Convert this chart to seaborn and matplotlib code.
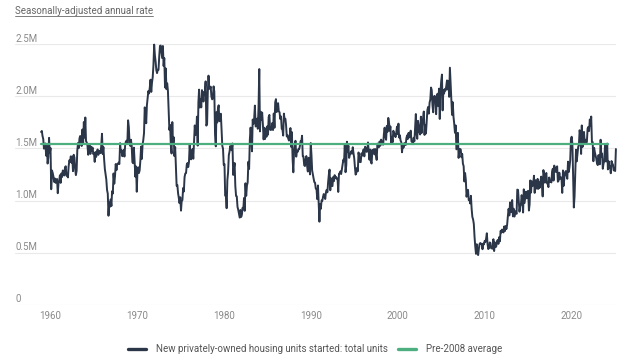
import matplotlib
matplotlib.use("Agg")  # no display

import matplotlib.dates as mdates
import matplotlib.pyplot as plt
import matplotlib.transforms as mtransforms
import numpy as np
import pandas as pd
import seaborn as sns
from matplotlib.lines import Line2D

# Monthly housing starts, thousands of units (SAAR)
starts_1959 = [1657, 1667, 1620, 1590, 1498, 1503, 1547, 1430, 1540, 1355, 1416, 1601]
starts_1960s = [
    1460, 1503, 1109, 1289, 1266, 1231, 1179, 1212, 1170, 1202, 1207, 1071,
    1166, 1195, 1243, 1170, 1260, 1226, 1289, 1252, 1241, 1318, 1329, 1239,
    1246, 1222, 1325, 1386, 1373, 1424, 1363, 1422, 1282, 1439, 1413, 1303,
    1244, 1287, 1480, 1552, 1503, 1596, 1619, 1542, 1523, 1681, 1551, 1753,
    1603, 1796, 1570, 1557, 1528, 1439, 1522, 1533, 1447, 1516, 1477, 1508,
    1446, 1456, 1371, 1465, 1418, 1461, 1490, 1438, 1476, 1462, 1455, 1526,
    1640, 1446, 1513, 1395, 1303, 1251, 1203, 1102, 1066, 855, 982, 940,
    1011, 948, 1090, 1067, 1260, 1162, 1233, 1350, 1292, 1349, 1353, 1364,
    1350, 1550, 1466, 1481, 1425, 1451, 1487, 1422, 1536, 1566, 1574, 1550,
    1769, 1705, 1561, 1524, 1583, 1528, 1368, 1358, 1507, 1381, 1229, 1327,
]
starts_1970s = [
    1085, 1305, 1319, 1264, 1290, 1385, 1517, 1399, 1534, 1580, 1647, 1893,
    1828, 1741, 1910, 1986, 2049, 2026, 2083, 2158, 2041, 2128, 2182, 2295,
    2494, 2390, 2334, 2249, 2221, 2254, 2252, 2382, 2481, 2485, 2421, 2366,
    2481, 2289, 2365, 2084, 2266, 2067, 2123, 2051, 1874, 1677, 1724, 1526,
    1451, 1752, 1555, 1607, 1426, 1513, 1316, 1142, 1150, 1070, 1026, 975,
    1032, 904, 993, 1005, 1121, 1087, 1226, 1260, 1264, 1344, 1360, 1321,
    1367, 1538, 1421, 1395, 1459, 1495, 1401, 1550, 1720, 1629, 1641, 1804,
    1527, 1943, 2063, 1892, 1971, 1893, 2058, 2020, 1949, 2042, 2042, 2142,
    1718, 1738, 2032, 2197, 2075, 2070, 2092, 1996, 1970, 1981, 2094, 2044,
    1630, 1520, 1847, 1748, 1876, 1913, 1760, 1778, 1832, 1681, 1524, 1498,
]
starts_1980s = [
    1341, 1350, 1047, 1051, 927, 1196, 1269, 1436, 1471, 1523, 1510, 1482,
    1547, 1246, 1306, 1360, 1140, 1045, 1041, 940, 911, 873, 837, 910,
    843, 866, 931, 917, 1025, 902, 1166, 1046, 1144, 1173, 1372, 1303,
    1586, 1699, 1606, 1472, 1776, 1733, 1785, 1910, 1710, 1715, 1785, 1688,
    1897, 2260, 1663, 1851, 1774, 1843, 1732, 1586, 1698, 1590, 1689, 1612,
    1711, 1632, 1800, 1821, 1680, 1676, 1684, 1743, 1676, 1834, 1698, 1942,
    1972, 1848, 1876, 1933, 1854, 1847, 1782, 1807, 1687, 1681, 1623, 1833,
    1774, 1784, 1726, 1614, 1628, 1594, 1575, 1605, 1695, 1515, 1656, 1400,
    1271, 1473, 1532, 1573, 1421, 1478, 1467, 1493, 1492, 1522, 1569, 1563,
    1621, 1425, 1422, 1339, 1331, 1397, 1427, 1332, 1279, 1410, 1351, 1251,
]
starts_1990s = [
    1551, 1437, 1289, 1248, 1212, 1177, 1171, 1115, 1110, 1014, 1145, 969,
    798, 965, 921, 1001, 996, 1036, 1063, 1049, 1015, 1079, 1103, 1079,
    1176, 1250, 1297, 1099, 1214, 1145, 1139, 1226, 1186, 1244, 1214, 1227,
    1210, 1210, 1083, 1258, 1260, 1280, 1254, 1300, 1343, 1392, 1376, 1533,
    1272, 1337, 1564, 1465, 1526, 1409, 1439, 1450, 1474, 1450, 1511, 1455,
    1407, 1316, 1249, 1267, 1314, 1281, 1461, 1416, 1369, 1369, 1452, 1431,
    1467, 1491, 1424, 1516, 1504, 1467, 1472, 1557, 1475, 1392, 1489, 1370,
    1355, 1486, 1457, 1492, 1442, 1494, 1437, 1390, 1546, 1520, 1510, 1566,
    1525, 1584, 1567, 1540, 1536, 1641, 1698, 1614, 1582, 1715, 1660, 1792,
    1748, 1670, 1710, 1553, 1611, 1559, 1669, 1648, 1635, 1608, 1648, 1708,
]
starts_2000s = [
    1636, 1737, 1604, 1626, 1575, 1559, 1463, 1541, 1507, 1549, 1551, 1532,
    1600, 1625, 1590, 1649, 1605, 1636, 1670, 1567, 1562, 1540, 1602, 1568,
    1698, 1829, 1642, 1592, 1764, 1717, 1655, 1633, 1804, 1648, 1753, 1788,
    1853, 1629, 1726, 1643, 1751, 1867, 1897, 1833, 1939, 1967, 2083, 2057,
    1911, 1846, 1998, 2003, 1981, 1828, 2002, 2024, 1905, 2072, 1782, 2042,
    2144, 2207, 1864, 2061, 2025, 2068, 2054, 2095, 2151, 2065, 2147, 1994,
    2273, 2119, 1969, 1821, 1942, 1802, 1737, 1650, 1720, 1491, 1570, 1649,
    1409, 1480, 1495, 1490, 1415, 1448, 1354, 1330, 1183, 1264, 1197, 1037,
    1084, 1103, 1005, 1013, 973, 1046, 923, 844, 820, 777, 652, 560,
    490, 582, 505, 478, 540, 585, 594, 586, 585, 534, 588, 581,
]
starts_2010s = [
    614, 604, 636, 687, 583, 536, 546, 599, 594, 543, 545, 539,
    630, 517, 600, 554, 561, 608, 623, 585, 650, 610, 711, 694,
    723, 704, 695, 753, 708, 757, 728, 770, 854, 921, 858, 983,
    888, 962, 1005, 849, 922, 847, 898, 889, 873, 1105, 1102, 1003,
    894, 947, 962, 1052, 1001, 886, 1108, 977, 1034, 1085, 1022, 1084,
    1094, 905, 963, 1193, 1077, 1184, 1139, 1159, 1238, 1074, 1195, 1150,
    1114, 1208, 1113, 1175, 1124, 1188, 1230, 1157, 1040, 1292, 1251, 1172,
    1230, 1265, 1168, 1157, 1129, 1221, 1179, 1189, 1174, 1279, 1305, 1192,
    1335, 1276, 1315, 1274, 1328, 1181, 1191, 1267, 1209, 1224, 1216, 1074,
    1289, 1142, 1223, 1271, 1283, 1246, 1209, 1373, 1274, 1319, 1387, 1585,
]
starts_2020s = [
    1612, 1543, 1269, 934, 1038, 1265, 1487, 1376, 1448, 1514, 1536, 1674,
    1621, 1447, 1720, 1514, 1594, 1658, 1557, 1583, 1549, 1563, 1690, 1706,
    1666, 1777, 1716, 1805, 1562, 1561, 1377, 1505, 1463, 1432, 1401, 1357,
    1340, 1436, 1380, 1348, 1583, 1418, 1451, 1305, 1356, 1376, 1525, 1376,
    1376, 1546, 1299, 1377, 1315, 1329, 1262, 1379, 1355, 1344, 1289, 1305,
    1283, 1494,
]

AVG_PRE_2008 = 1540  # thousands, level of the green reference line
AVG_END = "2024-03-01"

TITLE = "Seasonally-adjusted annual rate"
SERIES_LABEL = "New privately-owned housing units started: total units"
AVG_LABEL = "Pre-2008 average"
Y_TICKS = [0, 500_000, 1_000_000, 1_500_000, 2_000_000, 2_500_000]
Y_TICK_LABELS = ["0", "0.5M", "1.0M", "1.5M", "2.0M", "2.5M"]

DARK = "#2b3649"
GREEN = "#4dae80"
GRID = "#e9e9e9"
TICK_GREY = "#8a8a8a"

values = np.concatenate([starts_1959, starts_1960s, starts_1970s, starts_1980s,
                         starts_1990s, starts_2000s, starts_2010s, starts_2020s]) * 1000
dates = pd.date_range("1959-01-01", periods=len(values), freq="MS")
df = pd.DataFrame({"date": dates, "starts": values})
avg_dates = dates[dates <= pd.Timestamp(AVG_END)]
avg_df = pd.DataFrame({"date": avg_dates, "avg": AVG_PRE_2008 * 1000})

sns.set_theme(style="white")
plt.rcParams["font.family"] = ["Roboto", "DejaVu Sans"]

fig = plt.figure(figsize=(6.4, 3.6), dpi=100)
ax = fig.add_axes([15 / 640, 1 - 305 / 360, 601 / 640, 261 / 360])

sns.lineplot(data=df, x="date", y="starts", ax=ax, color=DARK, linewidth=1.4,
             legend=False, clip_on=False, zorder=3)
sns.lineplot(data=avg_df, x="date", y="avg", ax=ax, color=GREEN, linewidth=1.6,
             legend=False, zorder=4)

ax.set_ylim(0, 2_500_000)
ax.set_xlim(pd.Timestamp("1956-01-01"), pd.Timestamp("2025-02-05"))
ax.set_xlabel("")
ax.set_ylabel("")
for s in ax.spines.values():
    s.set_visible(False)

ax.set_yticks(Y_TICKS)
ax.set_yticklabels([])
ax.yaxis.grid(True, color=GRID, linewidth=0.8)
ax.xaxis.grid(False)
ax.tick_params(axis="both", length=0)
ax.tick_params(axis="x", labelsize=7, labelcolor=TICK_GREY, pad=4)
ax.xaxis.set_major_locator(mdates.YearLocator(10))
ax.xaxis.set_major_formatter(mdates.DateFormatter("%Y"))

# y labels sit inside the plot, just above each gridline
trans = mtransforms.blended_transform_factory(ax.transAxes, ax.transData)
trans = trans + mtransforms.ScaledTranslation(0, 2.5 / 100, fig.dpi_scale_trans)
for y, lab in zip(Y_TICKS, Y_TICK_LABELS):
    ax.text(0, y, lab, transform=trans, ha="left", va="baseline",
            fontsize=7, color=TICK_GREY)

# underlined title
title = fig.text(15 / 640, 1 - 14 / 360, TITLE, fontsize=7, color="#666666",
                 ha="left", va="baseline")
fig.canvas.draw()
bb = title.get_window_extent()
uy = (bb.y0 + bb.height * 0.0) / fig.bbox.height
ub = 1 - 16 / 360
fig.add_artist(Line2D([bb.x0 / fig.bbox.width, bb.x1 / fig.bbox.width], [ub, ub],
                      color="#666666", linewidth=0.6, transform=fig.transFigure))

handles = [Line2D([], [], color=DARK, linewidth=2.4),
           Line2D([], [], color=GREEN, linewidth=2.4)]
fig.legend(handles, [SERIES_LABEL, AVG_LABEL], loc="center",
           bbox_to_anchor=(0.492, 1 - 349 / 360), ncol=2, frameon=False,
           fontsize=7, handlelength=1.9, handletextpad=1.0, columnspacing=1.0,
           labelcolor="#555555")

fig.savefig("out.png", dpi=100, facecolor="white")
